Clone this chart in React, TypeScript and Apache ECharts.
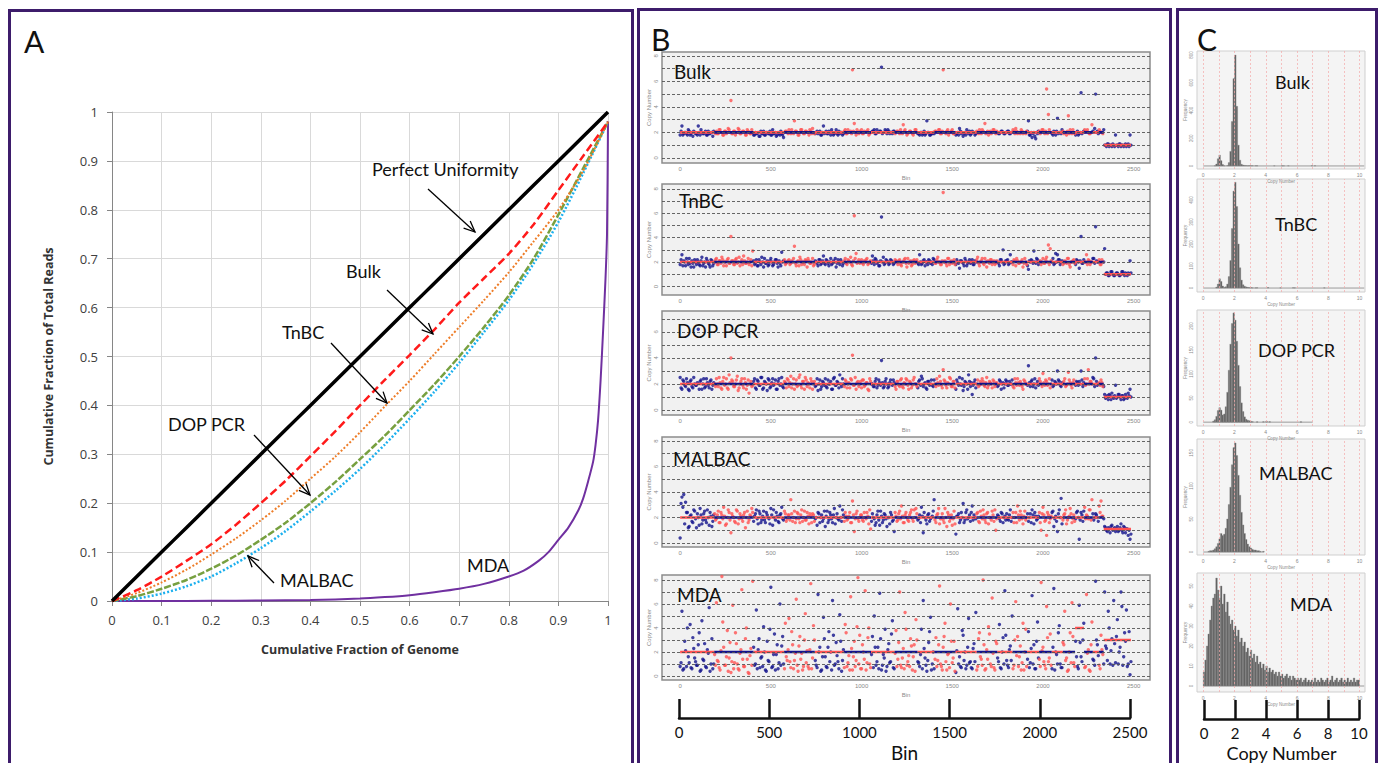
import React, { useEffect, useRef } from 'react';
import * as echarts from 'echarts';

// ---------------- Panel A: Lorenz curves ----------------
const genomeFraction = [0, 0.05, 0.1, 0.15, 0.2, 0.25, 0.3, 0.35, 0.4, 0.45, 0.5, 0.55, 0.6, 0.65, 0.7, 0.75, 0.8, 0.85, 0.9, 0.95, 1];
const perfectReads = [0, 0.05, 0.1, 0.15, 0.2, 0.25, 0.3, 0.35, 0.4, 0.45, 0.5, 0.55, 0.6, 0.65, 0.7, 0.75, 0.8, 0.85, 0.9, 0.95, 1];
const bulkReads = [0, 0.022, 0.05, 0.082, 0.116, 0.156, 0.2, 0.246, 0.296, 0.347, 0.4, 0.452, 0.503, 0.555, 0.61, 0.66, 0.71, 0.77, 0.84, 0.91, 0.98];
const tnbcReads = [0, 0.016, 0.038, 0.064, 0.095, 0.128, 0.165, 0.205, 0.25, 0.295, 0.345, 0.398, 0.45, 0.505, 0.56, 0.615, 0.672, 0.735, 0.8, 0.88, 0.98];
const dopReads = [0, 0.01, 0.025, 0.043, 0.066, 0.093, 0.125, 0.16, 0.2, 0.243, 0.29, 0.338, 0.39, 0.443, 0.5, 0.56, 0.625, 0.7, 0.79, 0.885, 0.98];
const malbacReads = [0, 0.005, 0.015, 0.03, 0.05, 0.077, 0.108, 0.143, 0.183, 0.225, 0.27, 0.32, 0.373, 0.428, 0.487, 0.55, 0.615, 0.69, 0.775, 0.875, 0.98];
const mdaGenomeFraction = [0, 0.1, 0.2, 0.3, 0.4, 0.5, 0.55, 0.6, 0.65, 0.7, 0.75, 0.8, 0.83, 0.86, 0.88, 0.9, 0.92, 0.94, 0.95, 0.96, 0.97, 0.975, 0.98, 0.985, 0.99, 0.995, 0.998, 1];
const mdaReads = [0, 0, 0.0005, 0.001, 0.002, 0.005, 0.008, 0.012, 0.018, 0.025, 0.035, 0.05, 0.062, 0.082, 0.1, 0.125, 0.15, 0.185, 0.21, 0.245, 0.285, 0.32, 0.37, 0.45, 0.55, 0.66, 0.75, 0.98];

// ---------------- Panel B: copy number by bin ----------------
// series "A" holds bins 0,10,20,...; series "B" holds bins 5,15,25,...
const BIN_STEP = 10;
const chromBounds = [0, 188, 404, 573, 742, 902, 1052, 1182, 1308, 1402, 1517, 1635, 1748, 1833, 1912, 1978, 2048, 2110, 2177, 2226, 2275, 2308, 2335, 2485];
const bulkCopyNumberA = [
  1.8, 2.5, 1.9, 2.0, 1.8, 2.1, 1.9, 1.7, 2.0, 1.9, 2.5, 1.8, 2.0, 1.9, 2.1, 1.8, 1.9, 2.0, 1.7, 2.0,
  2.1, 1.9, 2.2, 2.0, 1.8, 2.1, 2.0, 2.2, 4.5, 1.9, 2.1, 2.0, 2.3, 1.9, 2.0, 2.1, 1.8, 2.2, 2.0, 1.9,
  2.0, 1.8, 1.9, 2.0, 1.7, 1.9, 2.1, 1.8, 2.0, 1.9, 1.8, 2.2, 1.9, 1.7, 2.0, 1.8, 1.9, 1.6, 2.1, 2.0,
  2.2, 1.9, 2.0, 2.9, 2.1, 1.8, 2.0, 2.2, 1.9, 2.1, 2.0, 1.8, 2.1, 2.3, 1.9, 2.0, 1.9, 2.1, 1.8, 2.5,
  2.0, 1.9, 2.1, 1.8, 2.0, 1.9, 2.2, 1.8, 1.9, 2.0, 1.9, 2.2, 1.9, 2.0, 2.1, 6.9, 2.7, 1.8, 2.0, 2.1,
  2.2, 1.9, 2.0, 2.1, 1.8, 2.0, 2.1, 2.2, 1.9, 2.0, 2.1, 7.1, 2.0, 2.2, 1.9, 2.1, 2.0, 1.9, 2.1, 2.0,
  2.1, 1.9, 2.0, 2.6, 2.2, 1.8, 2.0, 2.1, 1.9, 2.0, 2.2, 1.9, 1.8, 2.0, 1.9, 1.8, 2.9, 2.0, 1.8, 1.9,
  1.9, 2.1, 2.0, 2.2, 1.9, 6.9, 2.0, 2.1, 1.8, 2.0, 2.2, 1.9, 1.8, 2.0, 2.3, 1.9, 1.7, 2.0, 2.2, 1.9,
  1.8, 2.1, 2.0, 1.9, 2.0, 2.2, 1.9, 2.1, 2.7, 2.0, 1.8, 2.1, 2.0, 2.2, 1.9, 2.0, 1.9, 2.1, 2.0, 1.9,
  2.0, 2.1, 1.9, 2.0, 2.1, 2.3, 1.9, 2.0, 2.2, 1.9, 2.0, 2.1, 2.9, 1.8, 1.6, 2.0, 1.5, 1.9, 2.1, 2.0,
  2.2, 1.9, 5.4, 3.4, 2.0, 1.9, 2.1, 1.8, 3.1, 2.0, 1.9, 2.1, 2.0, 1.8, 3.3, 2.2, 1.9, 2.0, 1.8, 2.1,
  1.9, 5.1, 2.0, 2.2, 2.1, 2.0, 1.9, 2.6, 2.0, 5.0, 2.1, 2.2, 2.0, 1.9, 1.0, 0.9, 1.1, 1.0, 0.9, 1.0,
  1.8, 1.0, 1.1, 0.9, 1.0, 1.0, 0.9, 1.1, 1.8,
];
const bulkCopyNumberB = [
  2.1, 1.8, 2.0, 1.9, 2.2, 1.8, 2.0, 2.1, 1.9, 1.8, 2.0, 2.2, 1.9, 2.0, 1.8, 2.1, 1.9, 2.0, 2.1, 1.9,
  1.9, 2.2, 2.0, 1.8, 2.1, 1.9, 2.3, 2.0, 1.9, 2.1, 1.8, 2.0, 2.2, 1.9, 2.1, 2.0, 1.8, 2.1, 1.9, 2.2,
  1.8, 2.0, 1.9, 1.7, 2.1, 1.9, 1.8, 2.0, 1.9, 2.1, 1.8, 1.9, 2.0, 1.8, 1.9, 2.1, 1.8, 2.0, 2.1, 1.9,
  2.0, 2.2, 1.9, 2.1, 2.0, 1.8, 2.2, 2.0, 1.9, 2.1, 2.0, 2.2, 1.9, 2.0, 1.9, 2.1, 2.0, 1.8, 2.0, 1.9,
  2.1, 1.9, 2.0, 2.2, 1.8, 2.0, 1.9, 2.1, 2.0, 1.8, 2.1, 1.9, 2.2, 2.0, 1.9, 2.1, 2.0, 2.2, 1.9, 2.0,
  1.9, 2.1, 2.0, 2.2, 1.9, 2.0, 2.1, 1.9, 2.2, 2.0, 2.1, 1.9, 2.0, 2.1, 2.2, 1.9, 2.0, 2.1, 1.9, 2.1,
  2.0, 2.2, 1.9, 2.1, 2.0, 1.9, 2.1, 2.0, 1.8, 2.2, 2.0, 1.9, 2.0, 1.8, 2.1, 1.9, 2.0, 1.8, 1.9, 2.0,
  2.1, 2.0, 2.2, 1.9, 2.1, 2.0, 1.9, 2.2, 2.0, 2.1, 1.9, 2.0, 1.9, 1.8, 2.1, 2.0, 1.9, 1.8, 2.0, 2.1,
  1.9, 2.0, 1.8, 2.1, 1.9, 2.0, 2.2, 2.0, 1.9, 2.1, 2.0, 1.9, 2.2, 2.0, 2.1, 1.9, 2.0, 2.1, 1.9, 2.0,
  2.1, 1.9, 2.0, 2.2, 1.9, 2.1, 2.0, 1.9, 2.1, 2.0, 1.9, 2.1, 1.8, 2.0, 1.9, 1.7, 2.0, 2.1, 1.9, 2.2,
  2.0, 2.1, 1.9, 2.2, 2.0, 1.8, 2.0, 2.1, 1.9, 2.0, 2.2, 1.9, 2.0, 2.1, 1.9, 2.0, 2.2, 1.9, 2.0, 1.8,
  2.0, 1.9, 2.1, 2.0, 2.2, 1.9, 2.0, 2.1, 2.3, 2.0, 1.9, 2.1, 2.0, 2.2, 1.0, 1.1, 0.9, 1.0, 1.1, 0.9,
  1.0, 0.9, 1.1, 1.0, 0.9, 1.1, 1.0, 0.9, 1.0,
];
const tnbcCopyNumberA = [
  1.8, 2.6, 2.1, 1.7, 2.0, 2.3, 1.6, 1.9, 2.2, 1.8, 2.0, 1.7, 2.4, 1.9, 1.6, 2.1, 1.8, 2.2, 1.7, 2.0,
  2.3, 1.8, 2.1, 2.4, 1.7, 2.0, 2.2, 1.9, 4.1, 2.1, 1.8, 2.3, 2.0, 1.7, 2.2, 2.5, 1.9, 2.0, 1.8, 2.2,
  2.9, 1.8, 2.2, 1.7, 2.0, 2.4, 1.6, 1.9, 2.1, 1.8, 2.3, 1.7, 2.0, 2.2, 1.6, 1.9, 2.8, 2.1, 1.8, 2.0,
  2.2, 1.9, 2.0, 3.3, 1.7, 2.1, 2.4, 1.8, 2.0, 2.2, 1.6, 2.1, 1.9, 2.3, 1.8, 2.0, 1.7, 2.2, 1.9, 2.5,
  1.8, 2.1, 1.7, 2.3, 1.9, 2.0, 1.6, 2.2, 1.8, 2.0, 1.9, 2.3, 1.8, 2.1, 2.4, 1.7, 5.8, 2.7, 2.0, 1.9,
  2.2, 1.8, 2.0, 2.3, 1.9, 2.1, 2.5, 1.8, 2.2, 2.0, 1.7, 5.7, 2.4, 1.9, 2.1, 1.8, 2.2, 2.0, 1.9, 2.1,
  1.8, 2.2, 1.7, 2.0, 2.3, 1.6, 1.9, 2.1, 1.8, 2.2, 2.0, 1.9, 2.6, 1.8, 2.1, 1.7, 2.0, 2.2, 1.9, 1.8,
  2.2, 1.9, 2.4, 2.0, 1.8, 7.7, 2.1, 1.7, 2.3, 2.0, 1.9, 2.2, 1.8, 2.0, 1.5, 2.1, 1.9, 2.3, 1.7, 2.0,
  1.9, 2.2, 1.8, 2.0, 2.4, 1.7, 2.1, 1.9, 2.3, 1.6, 2.0, 2.2, 1.8, 2.1, 1.9, 2.0, 1.7, 2.2, 3.0, 1.9,
  2.1, 1.8, 2.6, 2.0, 2.2, 1.7, 2.1, 1.9, 2.0, 1.6, 2.3, 1.8, 1.4, 2.0, 2.1, 2.9, 1.9, 2.2, 2.0, 1.8,
  2.3, 1.9, 2.4, 3.4, 3.1, 2.0, 1.8, 2.7, 2.6, 2.2, 2.0, 1.8, 2.1, 1.9, 2.3, 1.6, 2.0, 2.2, 1.8, 2.1,
  1.5, 4.1, 1.9, 2.0, 2.6, 2.2, 1.8, 2.0, 2.3, 4.9, 2.0, 2.2, 1.8, 2.0, 3.1, 1.1, 0.9, 1.0, 1.2, 0.9,
  1.0, 1.1, 0.9, 1.0, 1.2, 0.9, 1.0, 1.1, 2.1,
];
const tnbcCopyNumberB = [
  2.2, 1.7, 2.0, 2.3, 1.8, 1.9, 2.1, 1.6, 2.0, 2.2, 1.8, 2.1, 1.7, 2.0, 2.3, 1.9, 1.6, 2.1, 1.9, 2.2,
  1.8, 2.1, 1.9, 2.2, 2.0, 1.7, 2.3, 1.9, 2.1, 1.8, 2.2, 1.9, 2.4, 2.0, 1.8, 2.1, 1.9, 2.3, 2.0, 1.7,
  2.1, 1.9, 1.7, 2.2, 1.8, 2.0, 2.3, 1.9, 1.7, 2.1, 2.0, 1.8, 2.2, 1.9, 2.1, 1.7, 2.0, 2.2, 1.9, 2.1,
  1.8, 2.1, 2.3, 1.9, 2.0, 1.7, 2.2, 2.0, 1.8, 2.1, 2.3, 1.9, 2.0, 1.7, 2.1, 1.9, 2.2, 1.8, 2.1, 1.9,
  2.2, 1.9, 2.0, 1.8, 2.1, 2.3, 1.9, 2.0, 2.2, 1.7, 2.1, 1.9, 2.2, 2.0, 1.8, 2.1, 2.3, 1.9, 2.2, 2.0,
  1.9, 2.1, 2.2, 1.8, 2.0, 1.9, 2.1, 2.3, 1.9, 1.7, 2.1, 2.0, 1.8, 2.2, 2.0, 1.9, 2.1, 1.8, 2.2, 2.0,
  2.1, 1.8, 2.0, 2.2, 1.9, 2.3, 2.0, 1.7, 2.1, 1.9, 2.2, 1.8, 2.0, 1.9, 2.2, 2.0, 1.8, 2.1, 2.0, 2.3,
  1.9, 2.2, 2.0, 1.8, 2.1, 2.0, 1.9, 2.3, 1.8, 2.1, 2.0, 1.8, 2.2, 1.9, 2.1, 2.0, 1.7, 2.1, 1.9, 2.2,
  2.0, 1.8, 2.1, 2.2, 1.9, 2.0, 2.3, 1.8, 2.0, 2.1, 1.9, 2.2, 2.0, 1.8, 2.1, 1.9, 2.2, 2.0, 1.8, 2.1,
  2.2, 1.9, 2.0, 1.8, 2.1, 2.3, 1.9, 2.0, 2.2, 1.9, 2.0, 1.7, 2.1, 2.2, 1.9, 2.0, 2.3, 1.8, 2.1, 2.0,
  1.9, 2.2, 2.0, 1.8, 2.1, 2.3, 1.9, 2.0, 2.2, 1.8, 2.1, 1.9, 2.0, 2.3, 1.8, 2.0, 2.1, 1.9, 2.2, 2.0,
  2.1, 1.9, 2.2, 2.0, 1.8, 2.1, 2.0, 2.3, 1.9, 2.1, 2.0, 1.8, 2.2, 2.0, 1.0, 1.1, 0.9, 1.2, 1.0, 0.9,
  1.1, 1.0, 0.9, 1.2, 1.0, 1.1, 0.9, 1.0, 1.1,
];
const dopCopyNumberA = [
  2.5, 1.6, 2.2, 1.8, 2.1, 1.5, 2.3, 1.7, 2.0, 1.9, 6.2, 2.2, 1.6, 2.4, 1.8, 2.1, 1.7, 2.3, 1.9, 2.0,
  2.4, 1.8, 2.1, 1.6, 2.5, 2.0, 1.7, 2.7, 4.0, 2.2, 1.8, 2.3, 1.5, 2.0, 2.4, 1.7, 2.1, 1.9, 1.3, 2.2,
  1.9, 2.4, 1.6, 2.2, 1.9, 2.5, 1.7, 2.1, 1.5, 2.3, 1.8, 2.4, 2.0, 1.6, 2.2, 1.9, 2.5, 1.7, 2.1, 2.4,
  1.8, 2.6, 2.0, 1.6, 2.3, 1.9, 2.7, 1.7, 2.2, 2.5, 1.8, 2.0, 2.4, 1.6, 2.2, 1.9, 1.5, 2.3, 1.8, 2.1,
  2.4, 1.7, 2.0, 2.2, 1.6, 2.5, 1.9, 2.1, 2.7, 1.8, 2.0, 2.3, 1.7, 2.1, 2.4, 4.2, 1.9, 1.6, 2.2, 2.0,
  1.7, 2.3, 1.9, 2.1, 1.5, 2.2, 2.0, 1.8, 2.4, 1.9, 2.1, 3.8, 1.7, 2.2, 2.0, 1.8, 2.3, 1.9, 2.1, 1.6,
  2.2, 1.8, 2.4, 1.7, 2.0, 2.3, 1.6, 2.1, 1.9, 2.5, 2.0, 1.7, 2.3, 2.6, 1.8, 2.1, 1.6, 2.2, 2.0, 1.9,
  2.3, 1.8, 2.1, 2.6, 1.9, 3.1, 2.2, 1.7, 2.0, 2.4, 1.8, 2.2, 1.6, 2.1, 2.5, 1.9, 1.5, 2.2, 2.0, 2.7,
  1.8, 1.2, 2.1, 1.7, 2.3, 1.9, 2.0, 2.2, 1.8, 2.5, 1.9, 2.1, 1.7, 2.2, 2.0, 1.8, 2.3, 1.6, 2.1, 2.0,
  2.2, 1.9, 2.0, 2.3, 1.7, 2.1, 2.4, 1.9, 2.0, 1.6, 2.2, 2.0, 3.4, 1.8, 2.3, 2.0, 1.7, 2.2, 2.4, 2.0,
  2.8, 1.9, 2.2, 2.0, 1.7, 2.3, 1.9, 2.1, 3.0, 2.2, 1.8, 2.0, 2.4, 1.9, 2.9, 2.1, 1.7, 2.3, 1.9, 2.1,
  2.2, 3.0, 1.8, 2.4, 2.0, 3.1, 2.2, 2.0, 2.4, 4.0, 1.9, 2.1, 2.3, 1.8, 1.2, 1.0, 0.8, 1.1, 1.3, 0.9,
  1.9, 1.0, 1.2, 0.8, 1.1, 0.9, 1.0, 1.3, 1.6,
];
const dopCopyNumberB = [
  1.7, 2.3, 1.9, 2.4, 1.6, 2.2, 1.8, 2.5, 1.9, 2.1, 1.6, 2.3, 2.0, 1.7, 2.4, 1.9, 2.2, 1.6, 2.1, 1.8,
  2.0, 2.5, 1.7, 2.2, 1.9, 2.4, 1.6, 2.1, 2.3, 1.8, 2.0, 2.6, 1.7, 2.2, 1.9, 2.4, 1.6, 2.3, 2.0, 1.8,
  2.2, 1.7, 2.3, 1.9, 2.5, 1.6, 2.2, 2.0, 2.4, 1.7, 2.1, 1.9, 2.3, 1.6, 2.4, 2.0, 1.8, 2.2, 1.7, 2.3,
  2.1, 1.7, 2.4, 2.0, 1.8, 2.5, 1.9, 2.2, 1.6, 2.3, 2.1, 1.7, 2.2, 2.0, 1.8, 2.4, 2.0, 1.6, 2.2, 1.9,
  1.8, 2.3, 2.0, 1.6, 2.4, 1.9, 2.2, 1.7, 2.0, 2.4, 1.8, 2.2, 2.0, 1.7, 2.3, 1.9, 2.5, 2.1, 1.8, 2.2,
  2.3, 1.8, 2.1, 1.6, 2.4, 2.0, 1.8, 2.2, 1.7, 2.3, 1.9, 2.1, 1.8, 2.4, 1.7, 2.1, 2.0, 2.3, 1.8, 2.2,
  1.9, 2.3, 1.8, 2.1, 2.4, 1.9, 2.2, 1.7, 2.3, 2.0, 1.8, 2.2, 1.9, 2.4, 2.0, 1.7, 2.2, 1.9, 2.3, 1.8,
  2.0, 2.4, 1.9, 2.2, 1.7, 2.3, 1.9, 2.1, 2.5, 1.8, 2.2, 1.7, 2.3, 1.9, 2.0, 2.4, 1.8, 2.1, 1.6, 2.2,
  2.1, 1.9, 2.3, 2.0, 1.8, 2.2, 2.4, 1.9, 2.1, 1.7, 2.2, 2.0, 2.3, 1.8, 2.1, 1.9, 2.2, 2.0, 1.7, 2.3,
  1.9, 2.2, 2.0, 1.8, 2.4, 1.9, 2.1, 2.2, 1.8, 2.3, 2.0, 1.9, 2.1, 2.2, 1.8, 2.4, 2.0, 1.9, 2.2, 1.8,
  2.1, 2.3, 1.9, 2.4, 2.0, 1.8, 2.2, 2.0, 2.3, 1.9, 2.1, 2.2, 1.8, 2.0, 2.3, 1.9, 2.1, 2.0, 2.2, 1.9,
  2.0, 2.3, 2.1, 1.9, 2.4, 2.0, 2.2, 2.5, 1.8, 2.2, 2.0, 1.9, 2.1, 1.8, 0.9, 1.1, 1.2, 0.8, 1.0, 1.1,
  0.9, 1.2, 1.0, 1.1, 0.8, 1.2, 0.9, 1.1, 1.0,
];
const malbacCopyNumberA = [
  0.4, 3.6, 3.8, 3.2, 2.4, 1.3, 2.2, 1.6, 2.5, 1.2, 2.0, 2.7, 1.5, 2.3, 1.8, 2.6, 1.4, 2.1, 1.7, 2.3,
  1.9, 2.5, 1.6, 2.2, 2.8, 1.4, 2.0, 2.4, 0.8, 2.1, 1.7, 2.6, 1.5, 2.3, 1.9, 2.2, 1.2, 2.5, 1.8, 2.1,
  2.4, 2.1, 2.6, 1.5, 2.3, 1.8, 2.5, 1.6, 2.2, 1.9, 2.7, 1.4, 2.0, 2.4, 1.7, 2.2, 2.8, 1.8, 2.3, 1.9,
  2.2, 3.4, 1.7, 2.5, 1.9, 2.3, 1.6, 2.6, 2.0, 1.8, 2.4, 1.5, 2.1, 2.3, 1.7, 2.0, 2.4, 1.6, 2.2, 1.9,
  1.3, 2.5, 1.8, 2.2, 1.6, 2.7, 2.0, 1.9, 2.9, 1.7, 2.2, 2.4, 1.8, 2.1, 1.6, 3.3, 0.9, 2.3, 1.9, 2.0,
  2.2, 1.7, 2.0, 2.4, 1.5, 1.1, 2.3, 1.9, 1.6, 2.5, 1.4, 2.1, 1.8, 2.2, 1.3, 2.0, 2.4, 1.7, 0.9, 2.1,
  1.8, 2.5, 2.9, 1.6, 2.2, 2.0, 1.7, 2.4, 1.9, 2.6, 2.7, 1.8, 2.2, 2.8, 0.8, 2.0, 1.5, 2.3, 1.9, 2.1,
  3.4, 1.6, 2.3, 1.5, 2.0, 1.8, 2.7, 1.3, 2.2, 1.9, 1.4, 2.5, 0.7, 2.1, 1.6, 2.4, 3.1, 1.8, 2.6, 2.0,
  1.7, 2.9, 2.2, 1.9, 2.4, 1.6, 2.1, 2.6, 1.8, 2.3, 1.5, 2.0, 2.5, 1.7, 1.0, 2.2, 1.9, 2.4, 1.6, 2.1,
  2.3, 1.8, 2.6, 2.0, 1.6, 2.4, 2.9, 1.8, 2.2, 1.5, 2.5, 2.0, 1.7, 2.3, 2.6, 1.5, 2.1, 1.9, 2.4, 1.0,
  2.8, 1.7, 0.6, 2.2, 1.9, 2.4, 1.3, 2.1, 0.9, 2.6, 3.5, 1.8, 2.3, 1.5, 2.0, 2.7, 1.6, 2.2, 1.9, 2.5,
  0.3, 2.4, 1.7, 2.8, 2.2, 1.9, 2.6, 3.4, 1.8, 2.3, 2.0, 2.9, 3.3, 2.1, 1.3, 1.0, 1.2, 0.8, 1.4, 1.1,
  0.9, 1.3, 1.0, 1.5, 0.8, 1.2, 1.1, 0.6, 0.3,
];
const malbacCopyNumberB = [
  3.1, 2.8, 1.5, 2.4, 1.2, 2.1, 1.7, 2.6, 1.9, 2.3, 1.4, 2.2, 1.8, 2.5, 1.6, 2.0, 2.4, 1.3, 2.2, 1.8,
  2.2, 1.6, 2.4, 1.9, 2.1, 1.5, 2.6, 1.8, 2.3, 2.0, 1.6, 2.5, 1.9, 2.1, 1.7, 2.4, 2.0, 1.6, 2.2, 2.7,
  1.7, 2.3, 1.9, 2.5, 1.6, 2.1, 1.8, 2.4, 2.0, 1.5, 2.2, 2.6, 1.8, 2.1, 1.6, 2.3, 1.9, 2.5, 1.7, 2.2,
  1.8, 2.3, 2.0, 1.6, 2.4, 1.9, 2.2, 1.7, 2.5, 1.8, 2.1, 2.3, 1.6, 2.2, 1.9, 1.4, 2.3, 2.0, 1.7, 2.5,
  2.1, 1.6, 2.4, 1.9, 2.2, 1.5, 2.3, 1.8, 2.0, 2.6, 1.7, 2.1, 1.9, 2.4, 1.6, 2.2, 1.9, 2.5, 1.7, 2.2,
  1.8, 2.4, 1.9, 2.1, 2.6, 1.7, 2.0, 1.4, 2.2, 1.8, 2.5, 1.6, 2.3, 1.9, 2.0, 1.5, 2.2, 1.8, 2.4, 1.7,
  2.3, 1.9, 2.1, 1.6, 2.4, 1.8, 2.2, 2.6, 1.7, 2.0, 2.3, 1.9, 1.6, 2.1, 2.4, 1.8, 2.2, 1.7, 2.0, 2.5,
  1.8, 2.2, 2.7, 1.9, 2.3, 1.6, 2.0, 2.4, 1.7, 2.2, 1.9, 1.5, 2.1, 2.3, 1.8, 2.0, 1.6, 2.4, 1.9, 2.2,
  2.4, 1.8, 2.0, 2.3, 1.7, 2.5, 1.9, 2.2, 1.6, 2.4, 2.0, 1.8, 2.2, 2.6, 1.9, 2.1, 1.7, 2.3, 2.0, 1.8,
  1.9, 2.2, 1.7, 2.4, 2.0, 1.6, 2.2, 2.5, 1.9, 2.1, 1.8, 2.3, 2.0, 1.6, 2.2, 2.4, 1.8, 2.1, 1.6, 2.3,
  2.2, 1.8, 2.4, 1.6, 2.1, 2.5, 1.9, 1.7, 2.3, 2.0, 1.5, 2.2, 2.6, 1.8, 2.1, 2.3, 1.9, 1.7, 2.4, 2.0,
  1.8, 2.2, 2.5, 1.9, 2.1, 2.6, 1.8, 2.3, 2.0, 2.2, 1.7, 2.4, 2.1, 1.9, 1.2, 0.9, 1.1, 1.3, 1.0, 1.2,
  1.1, 0.9, 1.2, 1.0, 1.3, 0.8, 1.1, 1.0, 0.7,
];
const mdaCopyNumberA = [
  0.8, 5.4, 0.6, 2.1, 4.0, 1.1, 0.7, 3.2, 1.5, 0.9, 2.6, 0.4, 4.6, 1.3, 0.8, 2.2, 5.7, 1.0, 0.6, 1.8,
  6.1, 1.2, 0.5, 8.3, 2.4, 0.9, 3.8, 1.5, 0.3, 5.9, 1.1, 2.7, 0.6, 1.9, 7.2, 0.8, 3.1, 1.4, 0.2, 2.3,
  7.9, 0.9, 5.5, 2.2, 0.7, 1.6, 4.1, 0.5, 2.9, 1.2, 7.4, 0.8, 3.5, 1.8, 0.6, 6.0, 2.5, 1.0, 4.4, 1.3,
  4.8, 0.7, 2.6, 1.3, 6.4, 0.4, 3.3, 1.9, 0.8, 5.2, 2.1, 0.6, 7.7, 1.5, 3.0, 0.9, 6.8, 2.4, 0.5, 4.9,
  1.6, 0.7, 3.7, 2.0, 6.3, 0.9, 2.8, 1.2, 5.1, 0.4, 2.2, 4.3, 0.8, 1.7, 6.6, 0.5, 2.9, 1.3, 8.2, 3.4,
  0.6, 2.0, 7.1, 1.1, 4.0, 0.7, 3.3, 5.0, 0.9, 2.4, 6.9, 0.5, 1.8, 3.9, 0.8, 2.7, 1.2, 4.6, 0.6, 3.8,
  1.4, 7.0, 0.7, 2.3, 5.3, 0.9, 1.7, 3.1, 0.5, 2.6, 4.7, 1.2, 0.8, 3.9, 6.3, 1.5, 0.4, 2.8, 4.9, 1.0,
  0.6, 3.2, 1.3, 7.5, 0.8, 2.4, 4.4, 0.5, 1.9, 6.0, 1.1, 2.9, 0.3, 5.6, 1.6, 0.7, 3.4, 2.0, 0.9, 4.8,
  1.2, 0.6, 2.7, 5.3, 0.8, 3.6, 1.4, 8.0, 0.5, 2.2, 4.1, 1.0, 6.5, 0.7, 2.9, 1.5, 4.3, 0.6, 3.2, 7.1,
  1.3, 0.7, 2.5, 5.0, 0.9, 6.2, 3.3, 1.6, 0.5, 4.4, 2.0, 0.8, 3.7, 1.1, 6.7, 2.6, 0.6, 4.5, 1.4, 7.8,
  2.4, 0.9, 5.8, 1.2, 3.5, 0.6, 7.3, 2.0, 1.0, 4.2, 0.7, 2.8, 5.4, 1.5, 0.5, 3.6, 6.1, 1.1, 2.9, 0.8,
  5.9, 1.6, 3.0, 0.7, 6.8, 2.2, 0.4, 4.5, 1.3, 7.9, 2.6, 0.9, 3.4, 1.8, 7.0, 2.3, 5.4, 1.0, 3.1, 6.3,
  1.1, 4.7, 2.0, 7.0, 0.9, 3.6, 5.5, 1.0, 0.1,
];
const mdaCopyNumberB = [
  1.1, 0.5, 2.9, 0.8, 1.6, 4.3, 0.6, 2.3, 1.2, 0.9, 3.6, 0.5, 1.4, 2.7, 0.7, 1.9, 0.4, 3.1, 1.0, 0.9,
  1.3, 0.7, 2.1, 4.5, 0.9, 1.6, 0.4, 2.8, 1.2, 0.6, 3.6, 1.0, 0.5, 2.2, 1.4, 0.8, 4.0, 0.3, 1.7, 0.9,
  2.4, 1.0, 0.6, 3.1, 1.5, 0.8, 2.0, 0.4, 1.3, 3.9, 0.7, 1.8, 0.5, 2.6, 1.1, 0.9, 3.3, 0.6, 1.6, 2.2,
  1.2, 3.7, 0.6, 1.9, 0.9, 2.5, 1.4, 0.5, 3.0, 1.1, 0.8, 2.2, 0.6, 4.2, 1.3, 0.7, 2.0, 0.4, 1.6, 3.1,
  0.8, 2.4, 1.2, 0.5, 3.4, 1.0, 1.7, 0.6, 2.9, 1.3, 0.7, 3.6, 1.1, 0.5, 2.3, 1.6, 0.8, 4.1, 1.0, 0.6,
  2.6, 1.4, 0.5, 3.2, 1.0, 1.8, 0.7, 2.4, 1.2, 0.6, 3.1, 0.9, 1.5, 0.4, 2.2, 1.1, 3.5, 0.7, 1.9, 0.8,
  2.8, 0.9, 1.5, 0.6, 3.9, 1.2, 0.8, 2.5, 1.6, 0.4, 3.0, 1.1, 1.8, 0.6, 2.3, 0.9, 1.3, 3.7, 0.5, 2.0,
  1.4, 0.8, 2.6, 1.0, 0.5, 3.3, 1.2, 1.8, 0.7, 2.9, 1.5, 0.4, 2.1, 1.0, 0.8, 3.8, 1.3, 0.6, 2.4, 1.1,
  0.7, 2.3, 1.2, 0.5, 3.1, 1.6, 0.9, 2.6, 0.6, 1.4, 3.5, 0.8, 1.9, 0.5, 2.7, 1.2, 0.7, 2.0, 1.0, 3.4,
  0.9, 2.2, 1.3, 0.6, 3.0, 1.7, 0.8, 2.5, 1.1, 0.5, 3.9, 1.4, 0.7, 2.3, 1.0, 0.6, 2.9, 1.5, 0.8, 2.1,
  1.2, 0.6, 3.2, 1.5, 0.9, 2.4, 0.5, 1.8, 3.6, 1.0, 0.7, 2.6, 1.3, 0.4, 2.0, 1.1, 3.3, 0.8, 1.6, 0.6,
  2.8, 1.2, 4.4, 0.8, 1.9, 0.5, 2.6, 1.4, 0.9, 3.0, 1.7, 0.6, 2.2, 1.0, 2.5, 1.3, 4.0, 2.1, 0.9, 2.7,
  3.3, 1.0, 2.4, 5.8, 1.6, 2.9, 0.8, 3.7, 1.2,
];
// segmented copy number per chromosome (chr1..chr22, X)
const bulkSegments = [2, 2, 2, 2, 2, 2, 2, 2, 2, 2, 2, 2, 2, 2, 2, 2, 2, 2, 2, 2, 2, 2, 1];
const tnbcSegments = [2, 2, 2, 2, 2, 2, 2, 2, 2, 2, 2, 2, 2, 2, 2, 2, 2, 2, 2, 2, 2, 2, 1];
const dopSegments = [2, 2, 2, 2, 2, 2, 2, 2, 2, 2, 2, 2, 2, 2, 2, 2, 2, 2, 2, 2, 2, 2, 1];
const malbacSegments = [2, 2, 2, 2, 2, 2, 2, 2, 2, 2, 2, 2, 2, 2, 2, 2, 2, 2, 2, 2, 2, 2, 1.1];
const mdaSegments = [2, 2, 2, 2, 2, 2, 2, 2, 2, 2, 2, 2, 2, 2, 2, 2, 2, 2, 4, 2, 2, 2, 3];
const binTicks = [0, 500, 1000, 1500, 2000, 2500];

// ---------------- Panel C: histograms of copy number ----------------
const HIST_BIN = 0.1;
const bulkHist = [[0.7, 2], [0.8, 14], [0.9, 52], [1.0, 78], [1.1, 38], [1.2, 10], [1.3, 2], [1.5, 3], [1.6, 24], [1.7, 105], [1.8, 320], [1.9, 630], [2.0, 800], [2.1, 430], [2.2, 150], [2.3, 42], [2.4, 12], [2.5, 6], [2.6, 4], [2.7, 3], [2.8, 2], [2.9, 3], [3.0, 1], [3.1, 2], [3.3, 2], [3.4, 1], [4.5, 1], [5.0, 1], [5.1, 1], [5.4, 1], [6.9, 2], [7.1, 1]];
const tnbcHist = [[0.8, 4], [0.9, 18], [1.0, 42], [1.1, 30], [1.2, 9], [1.3, 3], [1.4, 6], [1.5, 18], [1.6, 52], [1.7, 125], [1.8, 270], [1.9, 440], [2.0, 480], [2.1, 370], [2.2, 200], [2.3, 92], [2.4, 36], [2.5, 15], [2.6, 8], [2.7, 5], [2.8, 3], [2.9, 2], [3.0, 2], [3.1, 1], [3.3, 1], [3.4, 1], [4.1, 2], [4.9, 1], [5.7, 1], [5.8, 1], [7.7, 1]];
const dopHist = [[0.6, 2], [0.7, 5], [0.8, 12], [0.9, 24], [1.0, 30], [1.1, 25], [1.2, 15], [1.3, 17], [1.4, 32], [1.5, 62], [1.6, 108], [1.7, 162], [1.8, 205], [1.9, 227], [2.0, 212], [2.1, 168], [2.2, 118], [2.3, 74], [2.4, 40], [2.5, 22], [2.6, 11], [2.7, 6], [2.8, 4], [2.9, 3], [3.0, 2], [3.1, 1], [3.4, 1], [3.8, 1], [4.0, 2], [4.2, 1], [6.2, 1]];
const malbacHist = [[0.3, 1], [0.4, 2], [0.5, 2], [0.6, 3], [0.7, 5], [0.8, 8], [0.9, 13], [1.0, 20], [1.1, 28], [1.2, 25], [1.3, 27], [1.4, 36], [1.5, 50], [1.6, 72], [1.7, 98], [1.8, 132], [1.9, 158], [2.0, 165], [2.1, 146], [2.2, 116], [2.3, 86], [2.4, 60], [2.5, 41], [2.6, 28], [2.7, 19], [2.8, 12], [2.9, 8], [3.0, 6], [3.1, 4], [3.2, 3], [3.3, 3], [3.4, 2], [3.5, 2], [3.6, 1], [3.8, 1]];
const mdaHistCounts = [7, 13, 20, 26, 33, 40, 44, 46, 54, 48, 44, 50, 41, 46, 37, 42, 35, 31, 33, 28, 30, 25, 28, 22, 24, 20, 22, 17, 19, 15, 18, 14, 16, 12, 15, 11, 12, 9, 11, 8, 10, 7, 9, 7, 8, 6, 7, 5, 7, 5, 6, 4, 5, 6, 4, 5, 3, 5, 4, 3, 4, 3, 4, 2, 3, 4, 2, 3, 2, 3, 2, 4, 2, 3, 2, 4, 3, 2, 3, 4, 2, 3, 5, 2, 3, 4, 2, 3, 4, 2, 3, 2, 4, 2, 3, 2, 4, 2, 3, 3];
const copyTicks = [0, 2, 4, 6, 8, 10];

// ---------------- styling ----------------
const BLUE = '#13138c';
const RED = '#ff5252';
const PURPLE = '#3d1c6b';
const ANNOT_FONT = 'Lato, "Open Sans", sans-serif';
const TINY = { fontSize: 6, color: '#8a8a8a', fontFamily: '"Liberation Sans", sans-serif' };
const plain = (v: number) => String(v);

const chromIndex = (bin: number) => {
  for (let i = 0; i < chromBounds.length - 1; i++) {
    if (bin < chromBounds[i + 1]) return i;
  }
  return chromBounds.length - 2;
};

function arrow(x1: number, y1: number, x2: number, y2: number) {
  const ang = Math.atan2(y2 - y1, x2 - x1);
  const L = 12;
  const a = 0.42;
  const p1 = [x2 - L * Math.cos(ang - a), y2 - L * Math.sin(ang - a)];
  const p2 = [x2 - L * Math.cos(ang + a), y2 - L * Math.sin(ang + a)];
  return [
    { type: 'line', z: 100, shape: { x1, y1, x2, y2 }, style: { stroke: '#000', lineWidth: 1.3 } },
    { type: 'polyline', z: 100, shape: { points: [p1, [x2, y2], p2] }, style: { stroke: '#000', lineWidth: 1.3, fill: 'transparent' } },
  ];
}

function label(text: string, x: number, y: number, size: number) {
  return { type: 'text', z: 100, x, y, style: { text, fontSize: size, fontFamily: ANNOT_FONT, fill: '#111', align: 'left', verticalAlign: 'middle' } };
}

function buildOption() {
  const grid: any[] = [];
  const xAxis: any[] = [];
  const yAxis: any[] = [];
  const series: any[] = [];

  // ---- Panel A ----
  grid.push({ left: 112, top: 112, width: 496, height: 489 });
  const axisA = (isX: boolean) => ({
    gridIndex: 0,
    type: 'value',
    min: 0,
    max: 1,
    interval: 0.1,
    axisLine: { show: true, onZero: false, lineStyle: { color: '#868686', width: 1 } },
    axisTick: { show: true, length: 5, lineStyle: { color: '#868686' } },
    splitLine: { show: true, lineStyle: { color: '#d9d9d9', width: 1 } },
    axisLabel: {
      color: '#404040',
      fontSize: 13,
      fontFamily: '"Open Sans", sans-serif',
      margin: isX ? 12 : 14,
      formatter: (v: number) => String(Math.round(v * 10) / 10),
    },
    name: isX ? 'Cumulative Fraction of Genome' : 'Cumulative Fraction of Total Reads',
    nameLocation: 'middle',
    nameGap: isX ? 42 : 57,
    nameTextStyle: { fontWeight: 'bold', fontSize: 12.5, color: '#333', fontFamily: '"Open Sans", sans-serif' },
  });
  xAxis.push(axisA(true));
  yAxis.push(axisA(false));
  const lorenz = (name: string, xs: number[], ys: number[], color: string, type: any, width: number) => ({
    name,
    type: 'line',
    xAxisIndex: 0,
    yAxisIndex: 0,
    data: xs.map((x, i) => [x, ys[i]]),
    showSymbol: false,
    smooth: 0.25,
    lineStyle: { color, type, width },
    z: 3,
  });
  series.push(lorenz('MDA', mdaGenomeFraction, mdaReads, '#7030a0', 'solid', 2));
  series.push(lorenz('MALBAC', genomeFraction, malbacReads, '#1cb0ee', [2, 2], 2.5));
  series.push(lorenz('DOP PCR', genomeFraction, dopReads, '#77a040', [7, 2], 2.5));
  series.push(lorenz('TnBC', genomeFraction, tnbcReads, '#ee7d28', [2, 2], 2));
  series.push(lorenz('Bulk', genomeFraction, bulkReads, '#ff1a1a', [8, 4], 2.5));
  series.push(lorenz('Perfect Uniformity', genomeFraction, perfectReads, '#000000', 'solid', 3.5));

  // ---- Panel B ----
  const bSpecs = [
    { name: 'Bulk', a: bulkCopyNumberA, b: bulkCopyNumberB, seg: bulkSegments, top: 52, height: 111, min: -0.4, max: 8.3, lines: 8, labels: [0, 2, 4, 6, 8] },
    { name: 'TnBC', a: tnbcCopyNumberA, b: tnbcCopyNumberB, seg: tnbcSegments, top: 184, height: 111, min: -0.7, max: 8.4, lines: 8, labels: [0, 2, 4, 6, 8] },
    { name: 'DOP PCR', a: dopCopyNumberA, b: dopCopyNumberB, seg: dopSegments, top: 311, height: 104, min: -0.38, max: 7.6, lines: 7, labels: [0, 2, 4, 6] },
    { name: 'MALBAC', a: malbacCopyNumberA, b: malbacCopyNumberB, seg: malbacSegments, top: 437, height: 110, min: -0.31, max: 8.31, lines: 8, labels: [0, 2, 4, 6, 8] },
    { name: 'MDA', a: mdaCopyNumberA, b: mdaCopyNumberB, seg: mdaSegments, top: 575, height: 105, min: -0.33, max: 8.42, lines: 8, labels: [0, 2, 4, 6, 8] },
  ];
  bSpecs.forEach((s) => {
    const gi = grid.length;
    grid.push({ left: 662, width: 488, top: s.top, height: s.height, show: true, backgroundColor: '#f1f1f1', borderColor: '#8c8c8c', borderWidth: 1.5 });
    xAxis.push({
      gridIndex: gi, type: 'value', min: -100, max: 2590,
      axisLine: { show: false }, axisTick: { show: false, customValues: binTicks }, splitLine: { show: false },
      axisLabel: { ...TINY, margin: 3, customValues: binTicks, formatter: plain },
      name: 'Bin', nameLocation: 'middle', nameGap: 12, nameTextStyle: { ...TINY },
    });
    yAxis.push({
      gridIndex: gi, type: 'value', min: s.min, max: s.max,
      axisLine: { show: false }, axisTick: { show: false, customValues: s.labels }, splitLine: { show: false },
      axisLabel: { ...TINY, margin: 3, rotate: 90, customValues: s.labels, formatter: plain },
      name: 'Copy Number', nameLocation: 'middle', nameGap: 10, nameTextStyle: { ...TINY },
    });
    const blueDots: number[][] = [];
    const redDots: number[][] = [];
    const addDots = (vals: number[], offset: number) => vals.forEach((v, k) => {
      const bin = k * BIN_STEP + offset;
      (chromIndex(bin) % 2 === 0 ? blueDots : redDots).push([bin, v]);
    });
    addDots(s.a, 0);
    addDots(s.b, BIN_STEP / 2);
    const redSeg: any[] = [];
    const blueSeg: any[] = [];
    s.seg.forEach((v, i) => {
      const arr = i % 2 === 0 ? redSeg : blueSeg;
      arr.push([chromBounds[i], v], [chromBounds[i + 1], v], [chromBounds[i + 1], '-']);
    });
    const gridLines = Array.from({ length: s.lines + 1 }, (_, i) => ({ yAxis: i }));
    series.push({
      type: 'line', xAxisIndex: gi, yAxisIndex: gi, data: [[0, 0]], showSymbol: false, lineStyle: { width: 0 }, z: 1, silent: true,
      markLine: { silent: true, symbol: 'none', label: { show: false }, lineStyle: { color: '#555', type: [3, 2], width: 0.9 }, data: gridLines },
    });
    series.push({ type: 'scatter', name: s.name + ' a', xAxisIndex: gi, yAxisIndex: gi, data: blueDots, symbolSize: 3.4, itemStyle: { color: BLUE }, z: 2 });
    series.push({ type: 'scatter', name: s.name + ' b', xAxisIndex: gi, yAxisIndex: gi, data: redDots, symbolSize: 3.4, itemStyle: { color: RED }, z: 2 });
    series.push({ type: 'line', xAxisIndex: gi, yAxisIndex: gi, data: redSeg, showSymbol: false, connectNulls: false, lineStyle: { color: RED, width: 2.6 }, z: 3 });
    series.push({ type: 'line', xAxisIndex: gi, yAxisIndex: gi, data: blueSeg, showSymbol: false, connectNulls: false, lineStyle: { color: BLUE, width: 2.6 }, z: 3 });
  });
  // Panel B big axis
  {
    const gi = grid.length;
    grid.push({ left: 679, width: 451, top: 717, height: 1 });
    xAxis.push({
      gridIndex: gi, type: 'value', min: 0, max: 2500, interval: 500,
      axisLine: { show: true, lineStyle: { color: '#111', width: 2.5 } },
      axisTick: { show: true, inside: true, length: 19, lineStyle: { color: '#111', width: 2.5 } },
      splitLine: { show: false },
      axisLabel: { fontSize: 15, color: '#111', margin: 6, fontFamily: ANNOT_FONT, formatter: plain },
      name: 'Bin', nameLocation: 'middle', nameGap: 25, nameTextStyle: { fontSize: 19, color: '#111', fontFamily: ANNOT_FONT },
    });
    yAxis.push({ gridIndex: gi, type: 'value', show: false });
  }

  // ---- Panel C ----
  const mdaHist = mdaHistCounts.map((c, i) => [Math.round(i * HIST_BIN * 10) / 10, c]);
  const cSpecs = [
    { name: 'Bulk', hist: bulkHist, top: 51, height: 118, min: -22, max: 829, labels: [0, 200, 400, 600, 800], extent: 10.3 },
    { name: 'TnBC', hist: tnbcHist, top: 179, height: 113, min: -18, max: 495, labels: [0, 100, 200, 300, 400], extent: 10.3 },
    { name: 'DOP PCR', hist: dopHist, top: 310, height: 116, min: -8, max: 233, labels: [0, 50, 100, 150, 200], extent: 7.0 },
    { name: 'MALBAC', hist: malbacHist, top: 439, height: 116, min: -4.5, max: 171, labels: [0, 50, 100, 150], extent: 3.9 },
    { name: 'MDA', hist: mdaHist, top: 573, height: 119, min: -3, max: 56.5, labels: [0, 10, 20, 30, 40, 50], extent: 10.3 },
  ];
  cSpecs.forEach((s) => {
    const gi = grid.length;
    grid.push({ left: 1197, width: 168, top: s.top, height: s.height, show: true, backgroundColor: '#f4f4f4', borderColor: '#cfcfcf', borderWidth: 1 });
    xAxis.push({
      gridIndex: gi, type: 'value', min: -0.4, max: 10.35,
      axisLine: { show: false }, axisTick: { show: false, customValues: copyTicks }, splitLine: { show: false },
      axisLabel: { ...TINY, fontSize: 5, margin: 3, customValues: copyTicks, formatter: plain },
      name: 'Copy Number', nameLocation: 'middle', nameGap: 10, nameTextStyle: { ...TINY, fontSize: 4.5 },
    });
    yAxis.push({
      gridIndex: gi, type: 'value', min: s.min, max: s.max,
      axisLine: { show: false }, axisTick: { show: false, customValues: s.labels }, splitLine: { show: false },
      axisLabel: { ...TINY, fontSize: 4.5, margin: 3, rotate: 90, customValues: s.labels, formatter: plain },
      name: 'Frequency', nameLocation: 'middle', nameGap: 9, nameTextStyle: { ...TINY, fontSize: 4.5 },
    });
    series.push({
      type: 'line', xAxisIndex: gi, yAxisIndex: gi, data: [[0, 0], [s.extent, 0]], showSymbol: false, z: 1, silent: true,
      lineStyle: { color: '#9a9a9a', width: 1 },
      markLine: {
        silent: true, symbol: 'none', label: { show: false },
        lineStyle: { color: '#f3a9a9', type: [2, 2], width: 0.7 },
        data: [0, 1, 2, 3, 4, 5, 6, 7, 8, 9, 10].map((v) => ({ xAxis: v })),
      },
    });
    series.push({
      type: 'custom', name: s.name + ' hist', xAxisIndex: gi, yAxisIndex: gi, data: s.hist, z: 2,
      renderItem: (params: any, api: any) => {
        const x0 = api.value(0);
        const c = api.value(1);
        const p0 = api.coord([x0, c]);
        const p1 = api.coord([x0 + HIST_BIN, 0]);
        return {
          type: 'rect',
          shape: { x: p0[0], y: p0[1], width: p1[0] - p0[0], height: p1[1] - p0[1] },
          style: { fill: '#5b5b5b', stroke: '#8f8f8f', lineWidth: 0.4 },
        };
      },
    });
  });
  // Panel C big axis
  {
    const gi = grid.length;
    grid.push({ left: 1204, width: 155, top: 718, height: 1 });
    xAxis.push({
      gridIndex: gi, type: 'value', min: 0, max: 10, interval: 2,
      axisLine: { show: true, lineStyle: { color: '#111', width: 2.5 } },
      axisTick: { show: true, inside: true, length: 19, lineStyle: { color: '#111', width: 2.5 } },
      splitLine: { show: false },
      axisLabel: { fontSize: 15, color: '#111', margin: 6, fontFamily: ANNOT_FONT, formatter: plain },
      name: 'Copy Number', nameLocation: 'middle', nameGap: 25, nameTextStyle: { fontSize: 18, color: '#111', fontFamily: ANNOT_FONT },
    });
    yAxis.push({ gridIndex: gi, type: 'value', show: false });
  }

  // ---- graphics: panel frames, letters, annotations ----
  const graphic: any[] = [
    { type: 'rect', z: 100, shape: { x: 9.5, y: 10.5, width: 623, height: 800 }, style: { fill: 'transparent', stroke: PURPLE, lineWidth: 3 } },
    { type: 'rect', z: 100, shape: { x: 638.5, y: 9.5, width: 532, height: 800 }, style: { fill: 'transparent', stroke: PURPLE, lineWidth: 3 } },
    { type: 'rect', z: 100, shape: { x: 1177.5, y: 9.5, width: 199, height: 800 }, style: { fill: 'transparent', stroke: PURPLE, lineWidth: 3 } },
    { type: 'text', z: 100, x: 24, y: 41, style: { text: 'A', fontSize: 30, fontFamily: ANNOT_FONT, fill: '#111', verticalAlign: 'middle' } },
    { type: 'text', z: 100, x: 651, y: 39, style: { text: 'B', fontSize: 30, fontFamily: ANNOT_FONT, fill: '#111', verticalAlign: 'middle' } },
    { type: 'text', z: 100, x: 1197, y: 39, style: { text: 'C', fontSize: 30, fontFamily: ANNOT_FONT, fill: '#111', verticalAlign: 'middle' } },
    label('Perfect Uniformity', 372, 169, 18),
    label('Bulk', 346, 271, 18),
    label('TnBC', 282, 332, 18),
    label('DOP PCR', 168, 424, 18),
    label('MALBAC', 280, 580, 18),
    label('MDA', 467, 565, 18),
    ...arrow(428, 189, 475, 232),
    ...arrow(387, 290, 433, 334),
    ...arrow(331, 343, 387, 403),
    ...arrow(254, 435, 310, 495),
    ...arrow(274, 583, 248, 556),
    label('Bulk', 674, 71, 19),
    label('TnBC', 679, 200, 19),
    label('DOP PCR', 677, 330, 19),
    label('MALBAC', 673, 458, 19),
    label('MDA', 677, 594, 19),
    label('Bulk', 1275, 82, 18),
    label('TnBC', 1275, 224, 18),
    label('DOP PCR', 1258, 350, 18),
    label('MALBAC', 1259, 473, 18),
    label('MDA', 1290, 604, 18),
  ];

  return { animation: false, backgroundColor: '#ffffff', grid, xAxis, yAxis, series, graphic };
}

export default function App() {
  const ref = useRef<HTMLDivElement>(null);
  useEffect(() => {
    if (!ref.current) return;
    const chart = echarts.init(ref.current, null, { renderer: 'svg' });
    chart.setOption(buildOption() as any);
    return () => chart.dispose();
  }, []);
  return <div ref={ref} style={{ position: 'absolute', left: 0, top: 0, width: 1379, height: 763, background: '#fff' }} />;
}
